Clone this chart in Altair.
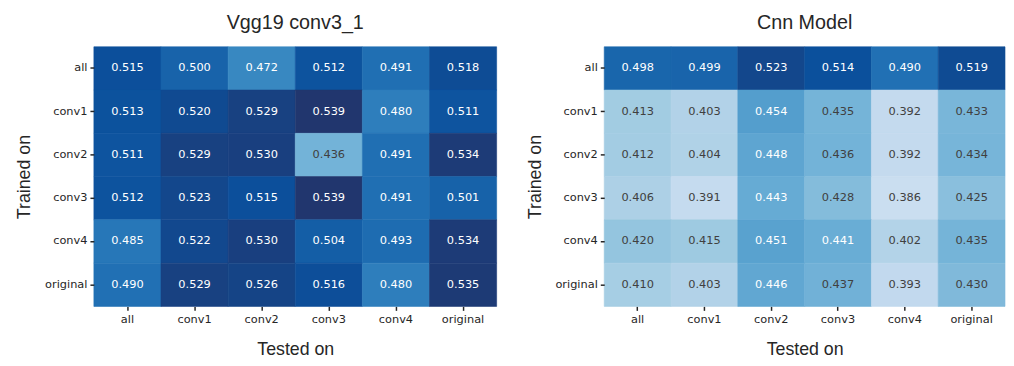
import altair as alt
import pandas as pd

rows = ["all", "conv1", "conv2", "conv3", "conv4", "original"]
cols = ["all", "conv1", "conv2", "conv3", "conv4", "original"]

vgg_values = [
    [0.515, 0.500, 0.472, 0.512, 0.491, 0.518],
    [0.513, 0.520, 0.529, 0.539, 0.480, 0.511],
    [0.511, 0.529, 0.530, 0.436, 0.491, 0.534],
    [0.512, 0.523, 0.515, 0.539, 0.491, 0.501],
    [0.485, 0.522, 0.530, 0.504, 0.493, 0.534],
    [0.490, 0.529, 0.526, 0.516, 0.480, 0.535],
]
cnn_values = [
    [0.498, 0.499, 0.523, 0.514, 0.490, 0.519],
    [0.413, 0.403, 0.454, 0.435, 0.392, 0.433],
    [0.412, 0.404, 0.448, 0.436, 0.392, 0.434],
    [0.406, 0.391, 0.443, 0.428, 0.386, 0.425],
    [0.420, 0.415, 0.451, 0.441, 0.402, 0.435],
    [0.410, 0.403, 0.446, 0.437, 0.393, 0.430],
]

vmin, vmax = 0.341, 0.539
blues = ["#f7fbff", "#deebf7", "#c6dbef", "#9ecae1", "#6baed6",
         "#4292c6", "#2171b5", "#0b509c", "#21366e"]
stops = [vmin + i * (vmax - vmin) / 8 for i in range(9)]


def table(values):
    recs = []
    for r, row in zip(rows, values):
        for c, v in zip(cols, row):
            recs.append({"trained": r, "tested": c, "value": v})
    return pd.DataFrame(recs)


def panel(values, title, width):
    df = table(values)
    cscale = alt.Scale(domain=stops, range=blues, interpolate="rgb", clamp=True)
    base = alt.Chart(df).encode(
        x=alt.X("tested:N", sort=cols, title="Tested on",
                axis=alt.Axis(labelAngle=0)),
        y=alt.Y("trained:N", sort=rows, title="Trained on"),
    )
    rect = base.mark_rect(strokeWidth=0.6).encode(
        color=alt.Color("value:Q", legend=None, scale=cscale),
        stroke=alt.Stroke("value:Q", legend=None, scale=cscale),
    )
    text = base.mark_text(font="DejaVu Sans", fontSize=11.5).encode(
        text=alt.Text("value:Q", format=".3f"),
        color=alt.condition("datum.value >= 0.44",
                            alt.value("#ffffff"), alt.value("#404040")),
    )
    return (rect + text).properties(
        width=width, height=263,
        title=alt.TitleParams(title, font="Liberation Sans", fontSize=20,
                              fontWeight="normal", color="#262626",
                              anchor="middle", offset=14),
    )


left = panel(vgg_values, "Vgg19 conv3_1", 408)
right = panel(cnn_values, "Cnn Model", 406)

chart = alt.hconcat(left, right, spacing=29).resolve_scale(
    color="independent", stroke="independent"
).properties(
    padding={"left": 8, "top": 2, "right": 0, "bottom": 0}
).configure_view(strokeWidth=0).configure_axis(
    domain=False, grid=False,
    tickColor="#262626", tickWidth=1.5, tickSize=4,
    labelFont="DejaVu Sans", labelFontSize=11.5, labelColor="#262626",
    labelPadding=3,
    titleFont="Liberation Sans", titleFontSize=18, titleFontWeight="normal",
    titleColor="#262626",
).configure_axisX(titlePadding=16, labelPadding=3).configure_axisY(
    titlePadding=11
)

chart.save("out.html", embed_options={"renderer": "svg", "actions": False})
